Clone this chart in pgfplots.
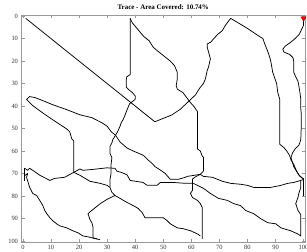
\documentclass[border=0pt]{standalone}
\usepackage{fontspec}
\setmainfont{Liberation Serif}
\usepackage{pgfplots}
\pgfplotsset{compat=1.18}
\begin{document}
\begin{tikzpicture}[tr/.style={black, line width=0.75pt, line join=round, mark=none}]
\begin{axis}[name=ax,
  width=283.5bp, height=227bp, scale only axis,
  xmin=-0.5, xmax=100.5, ymin=-0.5, ymax=100.5, y dir=reverse,
  xtick={0,10,...,100}, ytick={0,10,...,100},
  tick align=inside, major tick length=3bp,
  axis line style={black!40}, tick style={black!40},
  tick label style={font=\fontsize{6.5}{7}\selectfont, text=black!80},
  /pgf/number format/assume math mode=true,
  title={Trace - Area Covered: 10.74\%},
  title style={font=\bfseries\fontsize{7}{8}\selectfont, yshift=-4bp},
  clip=false,
]
% diagonal
\addplot[tr] coordinates {(1,1) (47,47)};
% S2: from (47,47) up to peak and down right
\addplot[tr] coordinates {(47,47) (50,45.5) (53,44) (56,41.5) (59,38) (61.5,35) (63,32) (64.3,30) (65,28) (65.7,24) (66.1,22.8) (66.8,19) (65.7,14) (65.7,12.4) (67,11.5) (68,10) (69.5,8) (71,6.5) (72.2,4) (74,1) (79.4,5) (83,8) (85.5,10) (86.2,12.5) (87,15) (87.6,17) (88.3,20) (89,25) (90.4,30) (90.8,34) (91.5,37) (91.5,57) (93,58.5) (94,60) (95,62) (95.5,64) (96.5,66) (97.5,69) (98.5,71) (100,72.5)};
% R: from marker down
\addplot[tr] coordinates {(100,1) (100,4) (98.5,8) (97,10) (95,12) (93.5,13.3) (92.6,14.7) (93,16) (95,17) (96.2,18.5) (96.5,20) (96.5,25) (97.2,27) (98,29) (98.3,31) (98.7,34) (99,37) (99,41) (99.2,44) (99.2,48) (99,55) (98.3,57.5) (97,59) (96,61) (95.5,63) (96,65) (96.5,67) (97.5,69) (98.5,71) (100,72.5) (100,80)};
% S3
\addplot[tr] coordinates {(38.2,1) (39,3) (41,6) (43,9) (45,11) (46.4,13.8) (48,15.5) (50,17.5) (52.5,20) (54,22) (55,25) (55,28) (54.6,31) (55,32.5) (57,34) (58.5,36.5) (59.7,38.5) (61,40.3) (62.2,42.5) (62.2,59.1) (63.2,60) (63.9,62.3) (64.3,62.7) (64.3,69) (63.9,69.5) (63.2,70.4) (61.5,71.5) (60.4,72.5) (60.4,77.5) (59.7,78.9) (60.4,80.7) (62.2,82) (63.2,83.4) (63.9,85.2) (63.9,99.1)};
% S4
\addplot[tr] coordinates {(38.2,1) (38.2,26) (37,27) (36.8,28.5) (36.8,31.5) (37.5,32.5) (39,34) (40,35.5) (40,37) (39,38) (38,39) (37.5,40.5) (37,42) (36.4,44) (35.7,46) (35,47.5) (34.6,49) (33.9,51) (33,53)};
% S5 loop
\addplot[tr] coordinates {(33,53) (31.5,51.5) (30,49) (28.2,47.5) (24.6,45.2) (20.3,43.9) (15.6,41.6) (10.6,39.4) (7.1,37.6) (4.2,36.2) (2.4,35.8) (1.3,37.1) (3.5,39.8) (6,42.1) (8.5,44.3) (10.6,46.1) (13.9,48.8) (15.6,50.2) (16.7,51.5) (17.4,54.6) (18.1,55.5) (18.1,69.5)};
% S6
\addplot[tr] coordinates {(33,53) (34.6,56) (36,57.5) (37.1,58.7) (39.3,60) (41,60.9) (43,62) (44.6,64) (46,65.5) (47.1,67) (49,68.5) (50.7,70) (52.5,72.6) (55.4,72.6) (57.9,71.7) (58.6,71.3) (63.2,70.4) (64.3,71.3) (67.5,71.7) (69.3,72.6) (71.1,73.5) (74,74.4) (77.5,74.8) (80,75.3) (82.2,76.2) (88.3,76.2) (91.9,75.3) (94.4,74.4) (96.5,74) (99,73.1) (100.1,72.6)};
% S7
\addplot[tr] coordinates {(33,53) (32,55) (31.7,56.4) (31,58) (31,61) (31.7,63) (31.4,66) (31.4,70) (31,73) (31,76.2) (31.7,78.4) (32.8,79.8) (34.6,81.1) (37.1,82.9) (39.3,84.3) (41.1,85.6) (42.5,87.4) (43.5,89.7) (50,89.7) (51.4,91) (52.5,92.4) (55,94.2) (57.2,94.6) (59.7,95.5) (62.2,96.9) (63.2,97.8)};
\addplot[tr] coordinates {(32.8,79.8) (30,81.5) (27.5,83.5) (25.5,85.5) (24,87) (23.2,88) (23.9,90.5) (24.6,92) (25,94) (25,98.7) (26.4,99.1)};
% lower-left loop line
\addplot[tr] coordinates {(1.3,71.7) (2.4,76.2) (3.5,78.9) (4.9,79.8) (6,82) (7.1,84.3) (7.8,86.5) (8.5,87.9) (9.6,89.7) (10.6,91) (12,92.4) (13.1,93.3) (15.6,94.2) (17.8,95.5) (19.6,96.4) (21.4,97.8) (23.2,98.2) (24.9,98.7) (27.5,99.5)};
% left E shape and line to junction
\addplot[tr] coordinates {(0.6,67.5) (0.6,73.5)};
\addplot[tr] coordinates {(0.6,67.7) (1.7,68.6) (2.4,67.7) (3.5,68.6) (6,70.8) (9.6,73.1) (11.3,72.2) (14.9,71.7) (18.1,69.5)};
\addplot[tr] coordinates {(0.6,71) (1.7,70) (1.3,71.7)};
% B1
\addplot[tr] coordinates {(18.1,69.5) (20.3,68) (21.4,68.6) (24.9,68.2) (30,67.5) (32.8,67.7) (33.5,69) (35,69.5) (37.1,70.6) (38.2,73.1) (42.8,74) (44.3,75.3) (47.8,75.3) (48.9,74) (53.5,74) (57.9,74.4) (60.7,74.4) (64.3,76.6) (66.8,78.9) (69.7,81.1) (72.9,82) (75,83.4) (77.5,84.3) (79.4,86.5) (82.2,87.9) (84.7,90.1) (87.2,91.9) (90.1,92.4) (91.9,94.2) (95.4,95.5) (97.9,96.9) (99,97.8) (99,88.3) (98,86.5) (97.2,83.4) (98,80.7) (98.3,78.9) (99,76.2) (99,73.1)};
% S11
\addplot[tr] coordinates {(18.1,69.5) (20.3,70.8) (23.9,73.5) (27.5,74.4) (30,75.3) (31,76.2)};
% marker
\addplot[only marks, mark=triangle*, mark options={rotate=180, fill=red, draw=red!70!black}, mark size=3pt] coordinates {(100,1)};
\end{axis}
\pgfresetboundingbox
\path[use as bounding box] ([xshift=-21.5bp,yshift=15bp]ax.north west) rectangle ([xshift=2bp,yshift=-10bp]ax.south east);
\end{tikzpicture}
\end{document}
